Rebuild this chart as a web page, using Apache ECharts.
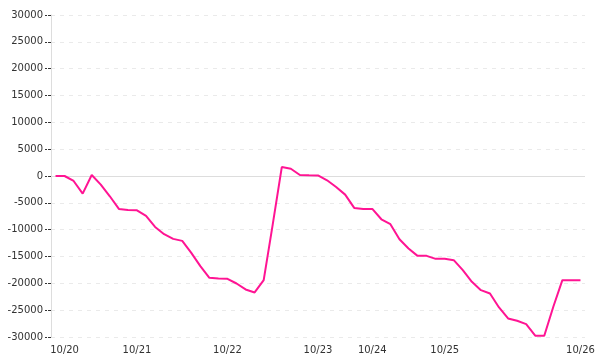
<!DOCTYPE html>
<html>
<head>
<meta charset="utf-8">
<script src="https://cdn.jsdelivr.net/npm/echarts@6/dist/echarts.min.js"></script>
<style>
html,body{margin:0;padding:0;background:#fff;}
#chart{width:600px;height:360px;}
</style>
</head>
<body>
<div id="chart"></div>
<script>
// Day of each sample (label shown where the day changes)
const dayLabels = ['10/19', '10/20', '10/21', '10/22', '10/23', '10/24', '10/25', '10/26'];
const dayCounts = [1, 8, 10, 10, 6, 8, 15, 1];

const values = [
  0, 0, -930, -3290, 190, -1610, -3780, -6140, -6320, -6390,
  -7440, -9490, -10850, -11720, -12090, -14320, -16800, -18970, -19100, -19160,
  -20030, -21140, -21700, -19400, -9000, 1670, 1360, 190, 120, 100,
  -800, -2050, -3470, -5950, -6140, -6140, -8060, -8990, -11780, -13520,
  -14880, -14880, -15440, -15440, -15690, -17550, -19720, -21270, -21890, -24490,
  -26540, -26970, -27590, -29760, -29760, -24370, -19410, -19410, -19410
];

const yMin = -30000, yMax = 30000, yStep = 5000;

const categories = [];
dayLabels.forEach((d, k) => { for (let j = 0; j < dayCounts[k]; j++) categories.push(d); });

const font = { fontFamily: 'DejaVu Sans', fontSize: 10, color: '#333' };

const chart = echarts.init(document.getElementById('chart'));
chart.setOption({
  animation: false,
  grid: { left: 51, right: 15, top: 15, bottom: 23, containLabel: false },
  xAxis: {
    type: 'category',
    boundaryGap: true,
    data: categories,
    axisLine: { show: false, onZero: false },
    axisTick: { show: false },
    splitLine: { show: false },
    axisLabel: Object.assign({
      margin: 8,
      interval: (i) => i > 0 && categories[i] !== categories[i - 1]
    }, font)
  },
  yAxis: {
    type: 'value',
    min: yMin, max: yMax, interval: yStep,
    axisLine: { show: true, lineStyle: { color: '#ddd', width: 1 } },
    axisTick: { show: true, length: 6, lineStyle: { color: '#333', type: [3, 1] } },
    axisLabel: Object.assign({ margin: 8, formatter: (v) => String(v) }, font),
    splitLine: { show: true, lineStyle: { color: '#eaeaea', type: [4, 5], width: 1 } }
  },
  series: [{
    type: 'line',
    data: [],
    silent: true,
    z: 1,
    markLine: {
      silent: true,
      symbol: ['none', 'none'],
      label: { show: false },
      lineStyle: { color: '#ddd', type: 'solid', width: 1 },
      data: [{ yAxis: 0 }]
    }
  }, {
    type: 'line',
    data: values,
    showSymbol: false,
    symbol: 'none',
    smooth: false,
    lineStyle: { color: '#ff1493', width: 2 },
    itemStyle: { color: '#ff1493' },
    z: 5
  }]
});
</script>
</body>
</html>
